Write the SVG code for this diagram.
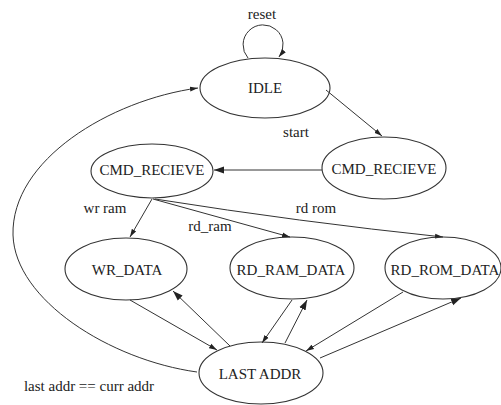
<svg xmlns="http://www.w3.org/2000/svg" width="501" height="405" viewBox="0 0 501 405">
<style>
.n ellipse{fill:none;stroke:#333;stroke-width:1.1}
.n text,.lbl{font-family:"Liberation Serif","Times New Roman",serif;font-size:15px;fill:#222;text-anchor:middle}
.e path{fill:none;stroke:#333;stroke-width:1}
.e .s{marker-end:url(#a)}
.e .b{marker-end:url(#b)}
</style>
<defs>
<marker id="a" markerUnits="userSpaceOnUse" markerWidth="8" markerHeight="6" refX="8" refY="3" orient="auto"><path d="M0,0.5 L8,3 L0,5.5 z" fill="#222"/></marker>
<marker id="b" markerUnits="userSpaceOnUse" markerWidth="10" markerHeight="8" refX="10" refY="4" orient="auto"><path d="M0,0.5 L10,4 L0,7.5 z" fill="#222"/></marker>
</defs>
<rect width="501" height="405" fill="#fff"/>
<g class="e" id="edges">
<path class="s" d="M248,58 A20,20 0 1,1 279,57"/>
<path class="s" d="M326,90 L382,136"/>
<path class="b" d="M322,170 L214,170"/>
<path class="s" d="M152,199 L130,237"/>
<path class="s" d="M153,199 L290,237"/>
<path class="s" d="M155,199 Q300,222 443,237"/>
<path class="s" d="M130,300 L217,350"/>
<path class="b" d="M230,346 L173,291"/>
<path class="s" d="M292,300 L262,343"/>
<path class="b" d="M285,343 L307,300"/>
<path class="s" d="M403,292 L306,351"/>
<path class="b" d="M320,358 L461,298"/>
<path class="s" d="M197,372 C110,360 15,300 13,235 C11,160 110,100 198,88"/>
</g>
<text class="lbl" x="262" y="19">reset</text>
<text class="lbl" x="296" y="137">start</text>
<text class="lbl" x="105" y="213">wr ram</text>
<text class="lbl" x="210" y="231">rd_ram</text>
<text class="lbl" x="316" y="213">rd rom</text>
<text class="lbl" x="89" y="391">last addr == curr addr</text>
<g class="n" id="idle"><ellipse cx="265" cy="88" rx="65" ry="30"/><text x="265" y="93">IDLE</text></g>
<g class="n" id="cmd_left"><ellipse cx="152" cy="171" rx="61" ry="27"/><text x="152" y="175">CMD_RECIEVE</text></g>
<g class="n" id="cmd_right"><ellipse cx="384" cy="168" rx="62" ry="31"/><text x="384" y="174">CMD_RECIEVE</text></g>
<g class="n" id="wr_data"><ellipse cx="126" cy="269" rx="61" ry="31"/><text x="127" y="275">WR_DATA</text></g>
<g class="n" id="rd_ram_data"><ellipse cx="292" cy="268" rx="62" ry="31"/><text x="291" y="275">RD_RAM_DATA</text></g>
<g class="n" id="rd_rom_data"><ellipse cx="443" cy="268" rx="58" ry="31"/><text x="445" y="275">RD_ROM_DATA</text></g>
<g class="n" id="last_addr"><ellipse cx="261" cy="373" rx="62" ry="31"/><text x="260" y="379">LAST ADDR</text></g>
</svg>
